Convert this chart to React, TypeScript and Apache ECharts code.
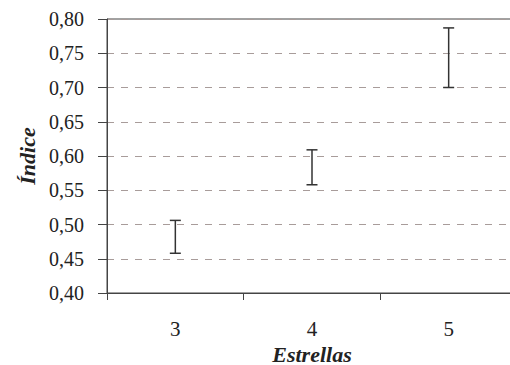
import React, { useEffect, useRef } from "react";
import * as echarts from "echarts";

const categories = ["3", "4", "5"];
const lowValues = [0.458, 0.558, 0.7];
const highValues = [0.506, 0.609, 0.787];
const yMin = 0.4;
const yMax = 0.8;
const yInterval = 0.05;

export default function App() {
  const ref = useRef<HTMLDivElement>(null);
  useEffect(() => {
    if (!ref.current) return;
    const chart = echarts.init(ref.current, null, { renderer: "svg" });
    const data = categories.map((_, i) => [i, lowValues[i], highValues[i]]);
    const font = "Liberation Serif";
    chart.setOption({
      animation: false,
      backgroundColor: "#fff",
      textStyle: { fontFamily: font },
      grid: {
        left: 107,
        top: 19,
        bottom: 72,
        width: 410,
        outerBoundsMode: "none",
        containLabel: false,
        show: true,
        borderColor: "#444",
        borderWidth: 1,
        backgroundColor: "transparent",
      },
      xAxis: {
        type: "category",
        data: categories,
        boundaryGap: true,
        name: "Estrellas",
        nameLocation: "middle",
        nameGap: 49,
        nameTextStyle: { fontFamily: font, fontSize: 22, fontWeight: "bold", fontStyle: "italic", color: "#222" },
        axisLine: { show: true, lineStyle: { color: "#444", width: 1 } },
        axisTick: { show: true, inside: false, length: 7, alignWithLabel: false, lineStyle: { color: "#444" } },
        axisLabel: { margin: 25, fontFamily: font, fontSize: 21, color: "#222" },
        splitLine: { show: false },
      },
      yAxis: {
        type: "value",
        min: yMin,
        max: yMax,
        interval: yInterval,
        name: "Índice",
        nameLocation: "middle",
        nameGap: 68,
        nameTextStyle: { fontFamily: font, fontSize: 22, fontWeight: "bold", fontStyle: "italic", color: "#222" },
        axisLine: { show: true, lineStyle: { color: "#444", width: 1 } },
        axisTick: { show: true, inside: false, length: 9, lineStyle: { color: "#444" } },
        axisLabel: {
          margin: 23,
          fontFamily: font,
          fontSize: 20,
          color: "#222",
          formatter: (v: number) => v.toFixed(2).replace(".", ","),
        },
        splitLine: { show: true, lineStyle: { color: "#a89c9a", type: [7, 7], width: 1 } },
      },
      series: [
        {
          type: "custom",
          data,
          renderItem: (params: any, api: any) => {
            const x = api.value(0);
            const lo = api.coord([x, api.value(1)]);
            const hi = api.coord([x, api.value(2)]);
            const half = 5.5;
            const style = { stroke: "#333", lineWidth: 1.5, fill: "none" };
            return {
              type: "group",
              children: [
                { type: "line", shape: { x1: lo[0], y1: lo[1], x2: hi[0], y2: hi[1] }, style },
                { type: "line", shape: { x1: lo[0] - half, y1: lo[1], x2: lo[0] + half, y2: lo[1] }, style },
                { type: "line", shape: { x1: hi[0] - half, y1: hi[1], x2: hi[0] + half, y2: hi[1] }, style },
              ],
            };
          },
          z: 10,
        },
      ],
    });
    return () => chart.dispose();
  }, []);
  return (
    <div style={{ position: "fixed", left: 0, top: 0, width: 510, height: 365, overflow: "hidden", background: "#fff" }}>
      <div ref={ref} style={{ width: 510, height: 365, overflow: "hidden" }} />
    </div>
  );
}
